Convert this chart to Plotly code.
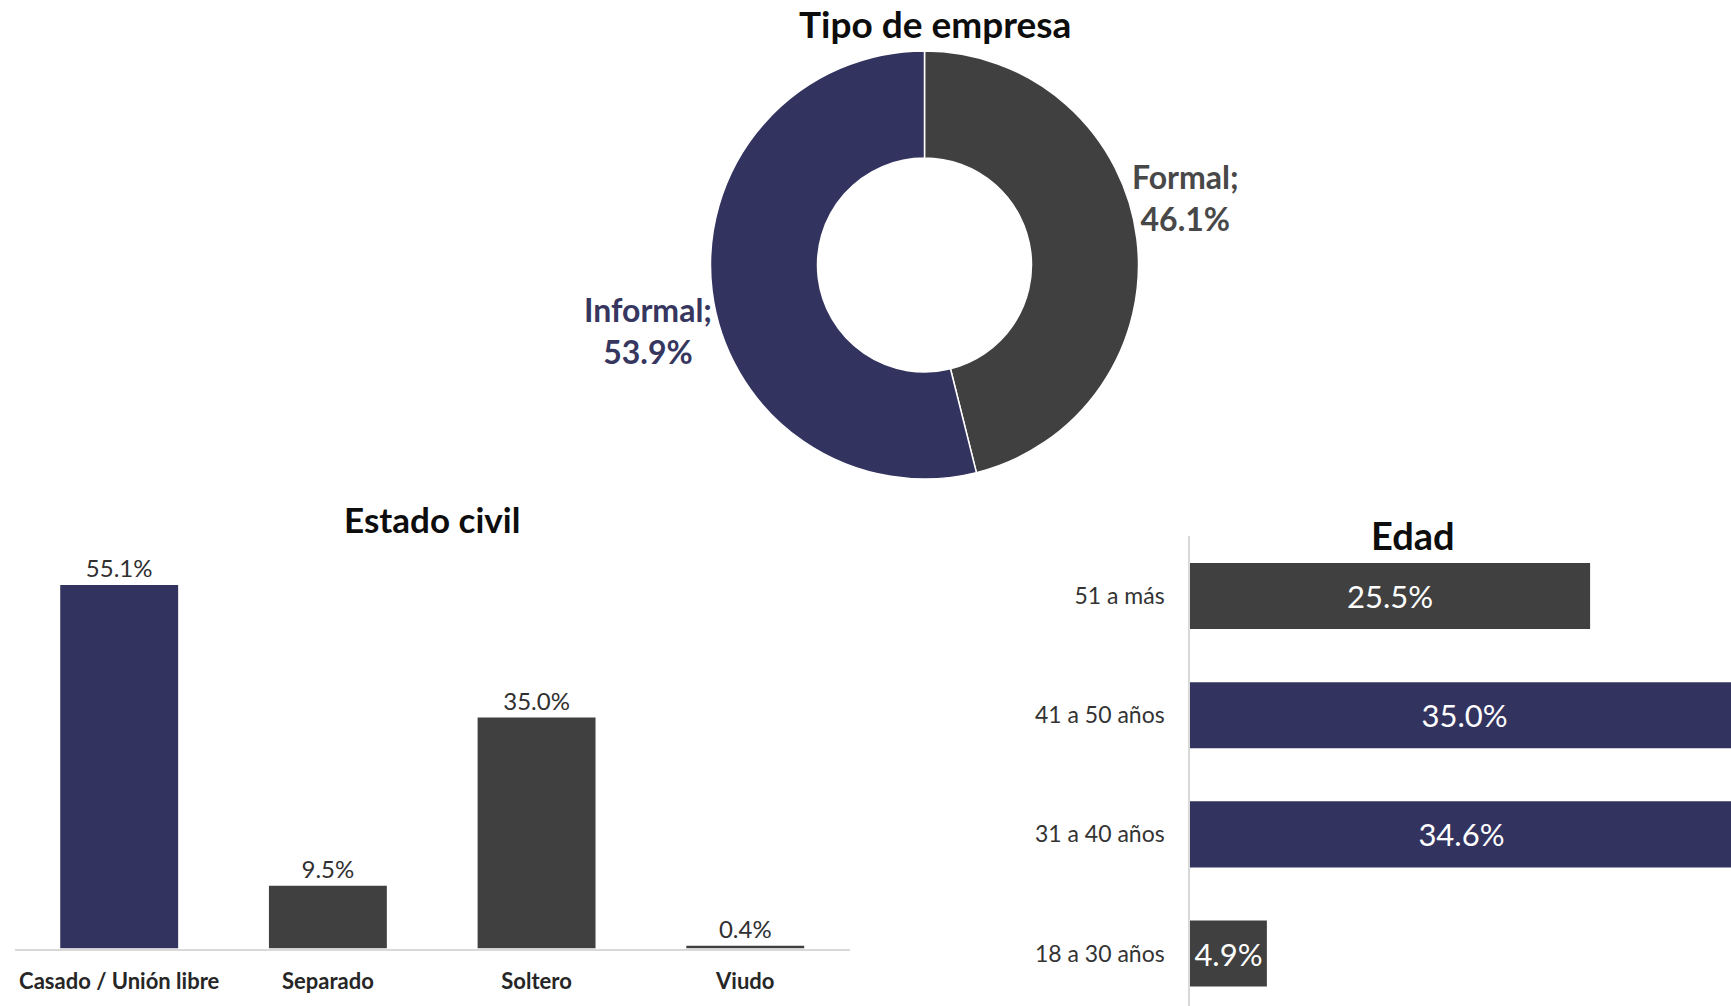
import plotly.graph_objects as go

W, H = 1731, 1006

# ---------------- data ----------------
empresa_labels = ["Formal", "Informal"]
empresa_values = [46.1, 53.9]

civil_labels = ["Casado / Unión libre", "Separado", "Soltero", "Viudo"]
civil_values = [55.1, 9.5, 35.0, 0.4]

edad_labels = ["18 a 30 años", "31 a 40 años", "41 a 50 años", "51 a más"]
edad_values = [4.9, 34.6, 35.0, 25.5]

# ---------------- style ----------------
NAVY = "#33335f"
GRAY = "#404040"
FONT = "Lato"
civil_colors = [NAVY, GRAY, GRAY, GRAY]
edad_colors = [GRAY, NAVY, NAVY, GRAY]
empresa_colors = [GRAY, NAVY]
empresa_text_colors = ["#484848", "#36365f"]


def px(x):
    return x / W


def py(y):
    return 1 - y / H


fig = go.Figure()

fig.add_trace(go.Pie(
    labels=empresa_labels, values=empresa_values, hole=0.5, sort=False,
    direction="clockwise", rotation=0,
    marker=dict(colors=empresa_colors, line=dict(color="white", width=1.5)),
    textinfo="none", showlegend=False,
    domain=dict(x=[px(710.5), px(1138.5)], y=[py(479), py(51)]),
))

fig.add_trace(go.Bar(
    x=civil_labels, y=civil_values, width=0.565,
    marker=dict(color=civil_colors, line=dict(width=0)),
    text=[f"{v:.1f}%" for v in civil_values], textposition="outside",
    textfont=dict(family=FONT, size=24, color="#303030"),
    cliponaxis=False, showlegend=False, xaxis="x", yaxis="y",
))

fig.add_trace(go.Bar(
    y=edad_labels, x=edad_values, orientation="h", width=0.554,
    marker=dict(color=edad_colors, line=dict(width=0)),
    text=[f"{v:.1f}%" for v in edad_values], textposition="inside",
    insidetextanchor="middle", constraintext="none",
    textfont=dict(family=FONT, size=31, color="white"),
    showlegend=False, xaxis="x2", yaxis="y2",
))

pie_label_pos = {"Formal": (1185, 198), "Informal": (648, 330)}
annotations = []
for lab, val, col in zip(empresa_labels, empresa_values, empresa_text_colors):
    x, y = pie_label_pos[lab]
    annotations.append(dict(
        x=px(x), y=py(y), xref="paper", yref="paper", showarrow=False,
        text=f"<b>{lab};<br>{val:.1f}%</b>", align="center",
        font=dict(family=FONT, size=32, color=col),
        xanchor="center", yanchor="middle",
    ))

for txt, x, y, s in [("Tipo de empresa", 935.5, 23, 37),
                     ("Estado civil", 432, 519, 35),
                     ("Edad", 1413, 535, 38)]:
    annotations.append(dict(
        x=px(x), y=py(y), xref="paper", yref="paper", showarrow=False,
        text=f"<b>{txt}</b>", font=dict(family=FONT, size=s, color="#0d0d0d"),
        xanchor="center", yanchor="middle",
    ))

fig.update_layout(
    width=W, height=H, margin=dict(l=0, r=0, t=0, b=0),
    paper_bgcolor="white", plot_bgcolor="white",
    font=dict(family=FONT, color="#333"),
    xaxis=dict(domain=[px(14.85), px(849.6)], anchor="y", type="category",
               showline=True, linecolor="#d9d9d9", linewidth=1.5,
               ticks="outside", ticklen=12, tickcolor="rgba(0,0,0,0)",
               tickfont=dict(family=FONT, size=22, color="#262626", weight="bold"),
               showgrid=False, zeroline=False),
    yaxis=dict(domain=[py(948.5), py(552.7)], anchor="x", range=[0, 60],
               visible=False),
    xaxis2=dict(domain=[px(1190), 1.0], anchor="y2", range=[0, 541 / 15.69],
                visible=False),
    yaxis2=dict(domain=[0, py(536.4)], anchor="x2", type="category",
                range=[-0.44, 3.5],
                showline=True, linecolor="#d9d9d9", linewidth=1.5,
                ticks="outside", ticklen=19, tickcolor="rgba(0,0,0,0)",
                tickfont=dict(family=FONT, size=23, color="#333"),
                showgrid=False, zeroline=False),
    annotations=annotations,
)

fig.write_html("out.html", config={"displayModeBar": False},
               post_script="document.body.style.margin='0';")
